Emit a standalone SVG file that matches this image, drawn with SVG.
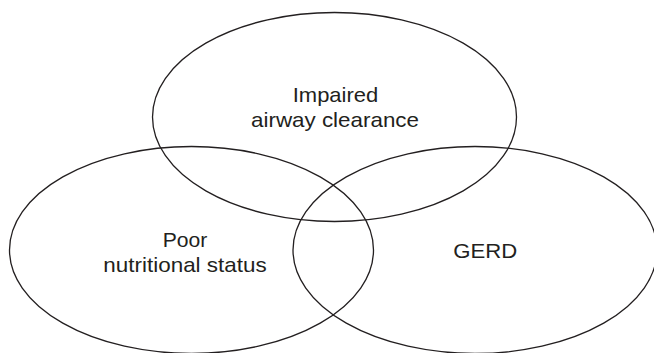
<svg xmlns="http://www.w3.org/2000/svg" width="654" height="353" viewBox="0 0 654 353">
  <style>
    .set { fill: none; stroke: #231f20; stroke-width: 1.3; }
    .lbl { font-family: "Liberation Sans", Arial, sans-serif; font-size: 21px; fill: #231f20; text-anchor: middle; }
  </style>
  <rect width="654" height="353" fill="#ffffff"/>
  <g id="impaired-airway-clearance">
    <ellipse class="set" cx="334.5" cy="117" rx="182" ry="104.5"/>
    <text class="lbl" x="335.5" y="101.5" textLength="85.6" lengthAdjust="spacingAndGlyphs">Impaired</text>
    <text class="lbl" x="335" y="126.5" textLength="168" lengthAdjust="spacingAndGlyphs">airway clearance</text>
  </g>
  <g id="poor-nutritional-status">
    <ellipse class="set" cx="191.5" cy="250" rx="182" ry="103.5"/>
    <text class="lbl" x="185" y="246.5" textLength="44.6" lengthAdjust="spacingAndGlyphs">Poor</text>
    <text class="lbl" x="185" y="271.5" textLength="163.4" lengthAdjust="spacingAndGlyphs">nutritional status</text>
  </g>
  <g id="gerd">
    <ellipse class="set" cx="475" cy="250" rx="182" ry="103.5"/>
    <text class="lbl" x="485.3" y="258.3" textLength="64" lengthAdjust="spacingAndGlyphs">GERD</text>
  </g>
  <g id="connectors"/>
</svg>
